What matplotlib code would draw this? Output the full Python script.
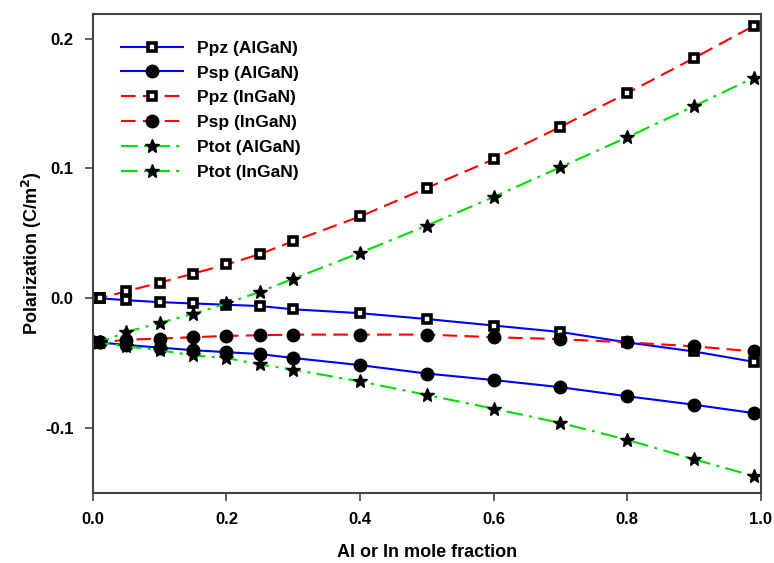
import numpy as np
import matplotlib.pyplot as plt

plt.rcParams['font.family'] = ['Liberation Sans', 'DejaVu Sans']
plt.rcParams['font.weight'] = 'bold'

# mole fraction
x = [0.0, 0.01, 0.05, 0.1, 0.15, 0.2, 0.25, 0.3, 0.4, 0.5, 0.6, 0.7, 0.8, 0.9, 0.99]

# polarization values (C/m^2)
ppz_algan = [0.0, 0.0, -0.0015, -0.003, -0.004, -0.005, -0.006, -0.0085, -0.0115,
             -0.016, -0.021, -0.026, -0.034, -0.041, -0.049]
psp_algan = [-0.034, -0.034, -0.036, -0.038, -0.040, -0.0415, -0.043, -0.046, -0.0515,
             -0.058, -0.063, -0.0685, -0.0755, -0.082, -0.0885]
ppz_ingan = [0.0, 0.0, 0.0054, 0.012, 0.019, 0.026, 0.034, 0.044, 0.063,
             0.085, 0.107, 0.132, 0.158, 0.185, 0.210]
psp_ingan = [-0.034, -0.034, -0.032, -0.031, -0.030, -0.029, -0.0285, -0.028, -0.028,
             -0.028, -0.030, -0.0315, -0.034, -0.037, -0.041]
ptot_algan = [-0.034, -0.034, -0.037, -0.040, -0.044, -0.046, -0.051, -0.055, -0.064,
              -0.0745, -0.085, -0.096, -0.109, -0.124, -0.137]
ptot_ingan = [-0.034, -0.034, -0.026, -0.019, -0.012, -0.004, 0.005, 0.015, 0.035,
              0.056, 0.078, 0.101, 0.124, 0.148, 0.170]

fig = plt.figure(figsize=(7.74, 5.63), dpi=100)
ax = fig.add_axes([0.120, 0.1243, 0.863, 0.851])

sq = dict(marker='s', markersize=5.5, markerfacecolor='white', markeredgecolor='black',
          markeredgewidth=2.6)
ci = dict(marker='o', markersize=9, markerfacecolor='black', markeredgecolor='black')
st = dict(marker='*', markersize=10, markerfacecolor='black', markeredgecolor='black')

dash = (0, (7, 3.5))
dashdot = (0, (8, 3, 1.5, 3))

ax.plot(x, ppz_algan, color='#0000ff', lw=1.5, label='Ppz (AlGaN)', **sq)
ax.plot(x, psp_algan, color='#0000ff', lw=1.5, label='Psp (AlGaN)', **ci)
ax.plot(x, ppz_ingan, color='#ff0000', lw=1.5, ls=dash, label='Ppz (InGaN)', **sq)
ax.plot(x, psp_ingan, color='#ff0000', lw=1.5, ls=dash, label='Psp (InGaN)', **ci)
ax.plot(x, ptot_algan, color='#00e000', lw=1.5, ls=dashdot, label='Ptot (AlGaN)', **st)
ax.plot(x, ptot_ingan, color='#00e000', lw=1.5, ls=dashdot, label='Ptot (InGaN)', **st)

ax.set_xlim(0, 1.0)
ax.set_ylim(-0.15, 0.219)
ax.set_xticks([0.0, 0.2, 0.4, 0.6, 0.8, 1.0])
ax.set_yticks([-0.1, 0.0, 0.1, 0.2])
ax.set_xticklabels(['0.0', '0.2', '0.4', '0.6', '0.8', '1.0'])
ax.set_yticklabels(['-0.1', '0.0', '0.1', '0.2'])
ax.tick_params(labelsize=12, length=6, width=1.2, color='#444444', pad=8)
for s in ax.spines.values():
    s.set_linewidth(1.5)
    s.set_color('#444444')

ax.set_xlabel('Al or In mole fraction', fontsize=13, fontweight='bold', labelpad=12)
ax.set_ylabel('Polarization (C/m$^\\mathbf{2}$)', fontsize=13, fontweight='bold', labelpad=1)

leg = ax.legend(loc='upper left', frameon=False, fontsize=12.5, handlelength=3.6,
                handletextpad=0.8, labelspacing=0.56, borderaxespad=0.0,
                bbox_to_anchor=(0.031, 0.959))

fig.savefig('out.png', dpi=100)
